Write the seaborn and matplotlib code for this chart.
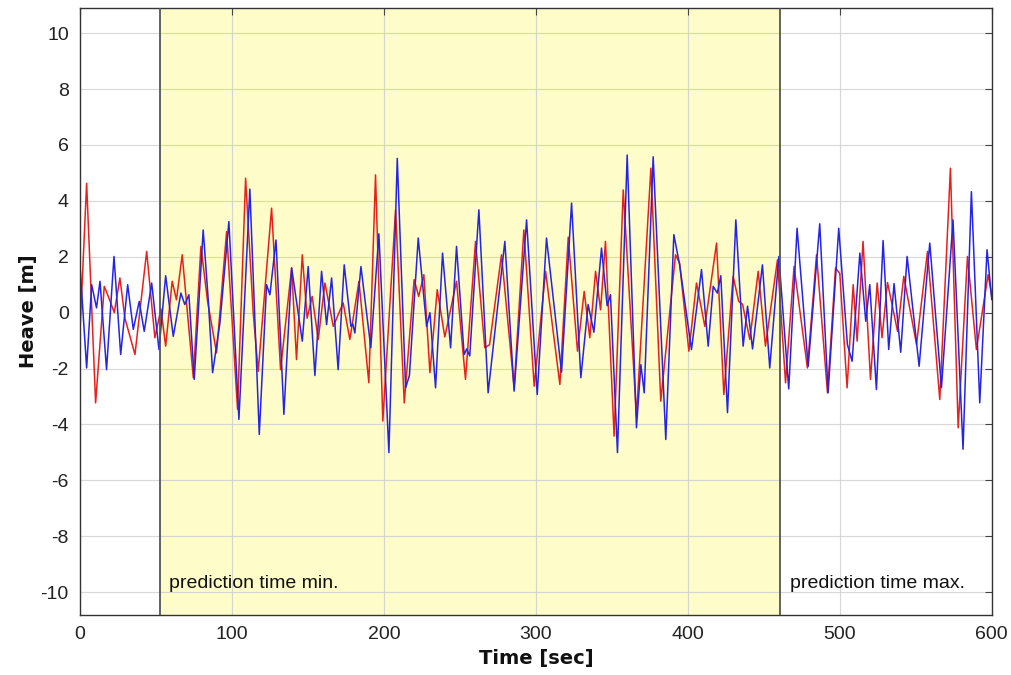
import matplotlib
matplotlib.use('Agg')
import matplotlib.pyplot as plt
import seaborn as sns

# ---------- data ----------
red_t = [0, 4.4, 10.3, 16.0, 18.5, 22.6, 26.3, 29.6, 36.2, 43.9, 49.3, 53.3, 56.4,
         60.7, 63.5, 67.3, 74.6, 79.6, 84.0, 89.9, 96.5, 103.7, 109.0, 114.0, 117.3,
         126.1, 132.0, 139.3, 142.5, 146.3, 149.5, 152.8, 156.8, 161.2, 166.7, 173.2,
         177.6, 183.6, 190.1, 194.5, 199.3, 207.7, 213.4, 219.9, 222.9, 226.3, 230.3,
         235.1, 240.1, 247.8, 253.7, 260.3, 266.4, 269.5, 277.4, 285.7, 292.1, 298.9,
         306.4, 315.8, 321.3, 327.4, 331.8, 335.5, 339.3, 342.6, 345.8, 351.5, 357.5,
         366.2, 375.7, 382.2, 391.9, 394.6, 400.7, 405.7, 411.2, 418.9, 423.7, 429.8,
         433.5, 436.0, 440.8, 446.3, 451.1, 459.0, 464.3, 469.9, 478.7, 484.7, 491.9,
         497.2, 500.0, 504.8, 508.8, 511.4, 515.3, 520.2, 524.6, 527.8, 531.4, 538.0,
         542.1, 550.5, 557.7, 565.8, 572.8, 577.9, 584.0, 589.9, 597.6, 600]
red_v = [-0.7, 4.63, -3.23, 0.94, 0.6, 0.0, 1.24, -0.2, -1.5, 2.19, -0.9, 0.13, -1.2,
         1.12, 0.46, 2.07, -2.33, 2.37, 0.4, -1.44, 2.9, -3.46, 4.81, 0.0, -2.1,
         3.74, -2.04, 1.6, -1.68, 2.07, -0.2, 0.58, -0.96, 1.06, -0.49, 0.35,
         -0.96, 1.12, -2.51, 4.93, -3.88, 3.68, -3.23, 1.18, 0.58, 1.36, -2.15,
         0.82, -0.87, 1.12, -2.39, 2.55, -1.26, -1.15, 2.07, -2.69, 2.96, -2.63,
         1.48, -2.57, 2.7, -1.38, 0.76, -0.9, 1.48, 0.1, 2.55, -4.42, 4.39,
         -3.7, 5.17, -3.17, 2.07, 1.77, -1.38, 1.06, -0.49, 2.49, -2.93, 1.3,
         0.4, 0.3, -0.96, 1.48, -1.2, 1.89, -2.51, 1.65, -1.98, 2.07, -2.87,
         1.6, 1.4, -2.69, 1.0, -1.02, 2.55, -2.39, 1.06, -0.9, 1.08, -0.67,
         1.3, -1.14, 2.19, -3.11, 5.17, -4.12, 2.01, -1.32, 1.36, 0.6]

blue_t = [0, 4.4, 7.7, 10.9, 13.2, 17.5, 22.4, 26.8, 31.4, 35.1, 39.0, 42.3, 47.2,
          52.0, 56.4, 61.4, 66.4, 69.0, 71.7, 75.2, 81.1, 84.5, 87.3, 92.1, 98.0,
          104.6, 111.8, 118.0, 122.8, 125.0, 129.0, 134.2, 139.3, 146.3, 150.2, 154.6,
          159.0, 162.3, 165.6, 169.9, 173.9, 178.3, 179.5, 180.9, 184.9, 191.4, 196.7,
          203.3, 208.8, 214.3, 216.8, 222.6, 228.1, 230.3, 234.0, 238.6, 243.9, 247.8,
          252.8, 254.5, 256.5, 262.5, 268.6, 279.6, 285.7, 293.9, 300.9, 307.0, 316.9,
          323.5, 329.6, 334.4, 338.2, 343.2, 346.9, 349.1, 353.7, 360.1, 366.2, 369.1,
          371.3, 377.2, 385.5, 390.8, 394.6, 402.4, 409.0, 413.4, 416.7, 419.4, 421.7,
          426.1, 431.6, 436.4, 439.3, 442.6, 449.1, 453.9, 459.9, 466.4, 471.9, 479.2,
          486.8, 492.3, 499.3, 505.0, 508.1, 513.2, 517.1, 519.7, 524.1, 528.5, 532.2,
          535.7, 540.1, 544.3, 552.2, 559.2, 566.9, 574.5, 581.1, 586.6, 592.1, 596.9, 600]
blue_v = [1.7, -1.98, 1.0, 0.17, 1.12, -2.04, 2.01, -1.5, 1.0, -0.6, 0.4, -0.67, 1.06,
          -1.32, 1.32, -0.85, 0.7, 0.29, 0.64, -2.39, 2.96, 0.4, -2.15, -0.37, 3.26,
          -3.82, 4.42, -4.36, 1.0, 0.64, 2.6, -3.64, 1.6, -1.02, 1.65, -2.25,
          1.48, -0.43, 1.24, -2.04, 1.71, -0.49, -0.4, -0.73, 1.65, -1.26, 2.82,
          -5.01, 5.52, -2.69, -2.25, 2.67, -0.49, 0.0, -2.69, 2.13, -1.26, 2.37,
          -1.5, -1.3, -1.55, 3.68, -2.87, 2.55, -2.81, 3.32, -2.93, 2.67, -2.13,
          3.92, -2.33, 0.29, -0.7, 2.31, 0.25, 0.64, -5.01, 5.64, -4.12, -1.86,
          -2.87, 5.58, -4.54, 2.79, 1.71, -1.32, 1.54, -1.2, 0.94, 0.7, 1.32,
          -3.58, 3.32, -1.2, 0.23, -1.3, 1.71, -1.98, 2.01, -2.73, 3.02, -1.92,
          3.18, -2.87, 3.02, -1.14, -1.74, 2.13, -0.31, 1.0, -2.75, 2.58, -1.32,
          1.04, -1.42, 2.01, -1.92, 2.49, -2.69, 3.32, -4.89, 4.33, -3.23, 2.25, 0.46]

pred_min = 52.6
pred_max = 460.5
x_ticks = [0, 100, 200, 300, 400, 500, 600]
y_ticks = [-10, -8, -6, -4, -2, 0, 2, 4, 6, 8, 10]

# ---------- plot ----------
sns.set_style('white')
plt.rcParams['font.family'] = ['Liberation Sans', 'DejaVu Sans']
plt.rcParams['axes.unicode_minus'] = False

fig = plt.figure(figsize=(10.12, 6.75), dpi=100)
ax = fig.add_axes([0.079, 0.089, 0.901, 0.899])

# zona sombreada de prediccion
ax.axvspan(pred_min, pred_max, facecolor='#fefcc8', edgecolor='none', zorder=0.4)
ax.axvline(pred_min, color='#555555', lw=1.3, zorder=3)
ax.axvline(pred_max, color='#555555', lw=1.3, zorder=3)

sns.lineplot(x=red_t, y=red_v, color='#e8201c', lw=1.1, sort=False,
             estimator=None, ax=ax, zorder=2)
sns.lineplot(x=blue_t, y=blue_v, color='#2424e8', lw=1.1, sort=False,
             estimator=None, ax=ax, zorder=2.1)

ax.set_xlim(0, 600)
ax.set_ylim(-10.82, 10.9)
ax.set_xticks(x_ticks)
ax.set_yticks(y_ticks)
ax.set_axisbelow('line')
ax.grid(True, color='#d0d0d0', lw=0.8, alpha=0.85)

ax.tick_params(direction='in', length=5, width=0.8, color='#444444',
               labelsize=14, labelcolor='#222222', top=True, right=True, pad=8)
for s in ax.spines.values():
    s.set_color('#333333')
    s.set_linewidth(1.0)

ax.set_xlabel('Time [sec]', fontsize=14, fontweight='bold', family='DejaVu Sans',
              color='#111111', labelpad=4)
ax.set_ylabel('Heave [m]', fontsize=14, fontweight='bold', family='DejaVu Sans',
              color='#111111', labelpad=2)

ax.text(58.6, -9.68, 'prediction time min.', fontsize=14, va='center', ha='left', color='#111111')
ax.text(467, -9.68, 'prediction time max.', fontsize=14, va='center', ha='left', color='#111111')

fig.savefig('out.png', dpi=100)
